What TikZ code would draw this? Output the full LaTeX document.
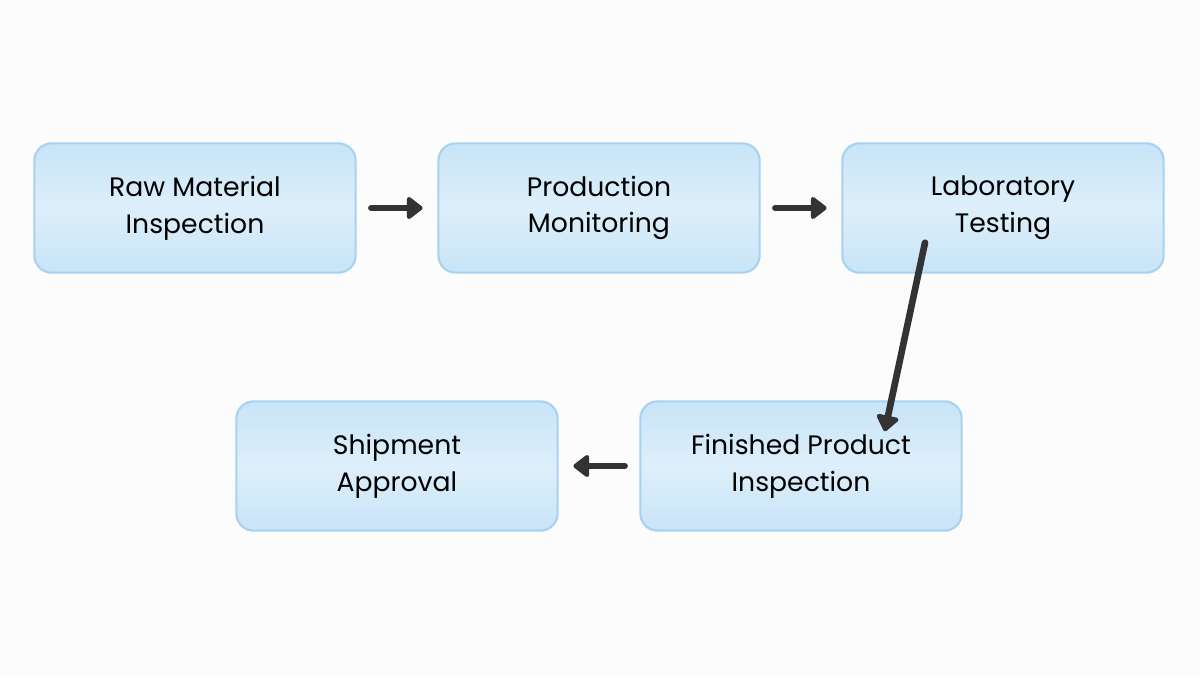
\documentclass[tikz,border=0pt]{standalone}
\usepackage{fontspec}
\setmainfont{Poppins}
\usetikzlibrary{arrows.meta}
\definecolor{bd}{HTML}{A8D2F0}
\definecolor{ft}{HTML}{C8E4F8}
\definecolor{fm}{HTML}{DDEFFA}
\definecolor{ar}{HTML}{333333}
\begin{document}
\begin{tikzpicture}[x=0.75pt,y=-0.75pt,
 box/.style={draw=bd,line width=1.6pt,rounded corners=13pt,minimum width=241pt,minimum height=97pt,
  top color=ft,bottom color=ft,middle color=fm,shading angle=0,align=center,
  font=\fontsize{20}{27.5}\selectfont,text=black},
 arr/.style={draw=ar,line width=5pt,line cap=round,-{Triangle[length=13pt,width=19pt,round]}}]
\fill[white!98!gray] (0,0) rectangle (1200,675);
\node[box] (a) at (195,208) {Raw Material\\Inspection};
\node[box] (b) at (599,208) {Production\\Monitoring};
\node[box] (c) at (1003,208) {Laboratory\\Testing};
\node[box] (d) at (801,466) {Finished Product\\Inspection};
\node[box] (e) at (397,466) {Shipment\\Approval};
\draw[arr] ([xshift=11pt]a.east) -- ([xshift=-11pt]b.west);
\draw[arr] ([xshift=11pt]b.east) -- ([xshift=-11pt]c.west);
\draw[arr] ([shift={(-78,-31)}]c.south) -- ([shift={(-78,31)}]d.north east);
\draw[arr] ([xshift=-11pt]d.west) -- ([xshift=11pt]e.east);
\end{tikzpicture}
\end{document}
